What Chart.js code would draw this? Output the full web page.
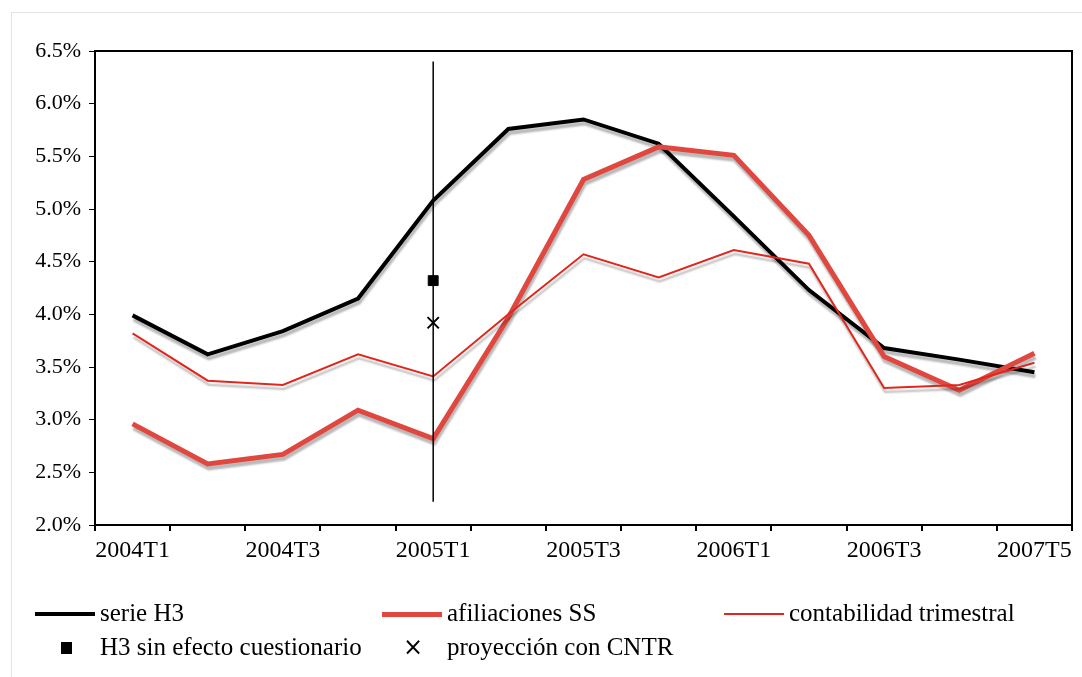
<!DOCTYPE html>
<html>
<head>
<meta charset="utf-8">
<script src="https://cdn.jsdelivr.net/npm/chart.js@4"></script>
<style>
  body { margin: 0; background: #fff; font-family: 'Liberation Serif', serif; }
  #wrap { position: relative; width: 1082px; height: 677px; overflow: hidden; }
  #frame { position: absolute; left: 11px; top: 12px; width: 1200px; height: 800px; border: 1px solid #e4e4e4; }
  #c { position: absolute; left: 0; top: 0; }
  .lg { position: absolute; font-size: 25px; color: #000; line-height: 28px; white-space: nowrap; }
  .sw { position: absolute; }
</style>
</head>
<body>
<div id="wrap">
  <div id="frame"></div>
  <canvas id="c" width="1082" height="677"></canvas>
  <div id="legend"></div>
</div>
<script>
const quarters = ['2004T1', '2004T2', '2004T3', '2004T4', '2005T1', '2005T2', '2005T3', '2005T4', '2006T1', '2006T2', '2006T3', '2006T4', '2007T5']
const serieH3 = [3.99, 3.62, 3.84, 4.15, 5.08, 5.76, 5.85, 5.62, 4.93, 4.23, 3.68, 3.57, 3.45]
const afiliaciones = [2.96, 2.58, 2.67, 3.09, 2.82, 3.97, 5.28, 5.59, 5.51, 4.75, 3.60, 3.28, 3.63]
const contabilidad = [3.82, 3.37, 3.33, 3.62, 3.41, 4.00, 4.57, 4.35, 4.61, 4.48, 3.30, 3.33, 3.54]
const sinEfecto = [null, null, null, null, 4.32, null, null, null, null, null, null, null, null]
const proyeccion = [null, null, null, null, 3.92, null, null, null, null, null, null, null, null]
// vertical marker line at 2005T1
const markerQuarter = '2005T1'
const markerRange = [2.22, 6.40]

const RED = '#e0473e'
const RED_THIN = '#e3261b'

// gray drop shadow under the series lines
const shadowPlugin = {
  id: 'shadow',
  beforeDatasetDraw (chart, args) {
    const ctx = chart.ctx
    ctx.save()
    if (args.index < 3) {
      ctx.shadowColor = 'rgba(0,0,0,0.28)'
      ctx.shadowOffsetX = 1
      ctx.shadowOffsetY = 4
      ctx.shadowBlur = 2
    }
  },
  afterDatasetDraw (chart) {
    chart.ctx.restore()
  }
}

const boxPlugin = {
  id: 'box',
  afterDatasetsDraw (chart) {
    const { ctx, chartArea, scales } = chart
    ctx.save()
    ctx.strokeStyle = '#000'
    ctx.lineWidth = 2
    ctx.beginPath()
    ctx.moveTo(chartArea.left, chartArea.top)
    ctx.lineTo(chartArea.right, chartArea.top)
    ctx.lineTo(chartArea.right, chartArea.bottom)
    ctx.stroke()
    const x = scales.x.getPixelForValue(quarters.indexOf(markerQuarter))
    ctx.lineWidth = 1.5
    ctx.beginPath()
    ctx.moveTo(x, scales.y.getPixelForValue(markerRange[1]))
    ctx.lineTo(x, scales.y.getPixelForValue(markerRange[0]))
    ctx.stroke()
    ctx.restore()
  }
}

new Chart(document.getElementById('c'), {
  type: 'line',
  data: {
    labels: quarters,
    datasets: [
      { label: 'serie H3', data: serieH3, borderColor: '#000', borderWidth: 4, pointRadius: 0, order: 3 },
      { label: 'afiliaciones SS', data: afiliaciones, borderColor: RED, borderWidth: 5, pointRadius: 0, order: 2 },
      { label: 'contabilidad trimestral', data: contabilidad, borderColor: RED_THIN, borderWidth: 2, pointRadius: 0, order: 1 },
      { label: 'H3 sin efecto cuestionario', data: sinEfecto, showLine: false, pointStyle: 'rect', pointRadius: 7, backgroundColor: '#000', borderColor: '#000', order: 0 },
      { label: 'proyección con CNTR', data: proyeccion, showLine: false, pointStyle: 'crossRot', pointRadius: 8, borderWidth: 2, borderColor: '#000', order: 0 }
    ]
  },
  options: {
    responsive: false,
    animation: false,
    layout: { padding: { left: 0, top: 51, right: 5, bottom: 112 } },
    plugins: { legend: { display: false }, tooltip: { enabled: false } },
    scales: {
      x: {
        offset: true,
        grid: { offset: true, drawOnChartArea: false, drawTicks: true, tickLength: 6, color: '#000', lineWidth: 2 },
        border: { display: true, color: '#000', width: 2 },
        ticks: {
          autoSkip: false,
          maxRotation: 0,
          color: '#000',
          padding: 5,
          font: { family: 'Liberation Serif', size: 24 },
          callback: function (v, i) { return i % 2 === 0 ? quarters[i] : '' }
        },
        afterFit: (s) => { s.height = 40 }
      },
      y: {
        min: 2.0,
        max: 6.5,
        grid: { drawOnChartArea: false, drawTicks: true, tickLength: 6, color: '#000', lineWidth: 1 },
        border: { display: true, color: '#000', width: 2 },
        ticks: {
          stepSize: 0.5,
          color: '#000',
          padding: 8,
          font: { family: 'Liberation Serif', size: 22 },
          callback: (v) => v.toFixed(1) + '%'
        },
        afterFit: (s) => { s.width = 95 }
      }
    }
  },
  plugins: [shadowPlugin, boxPlugin]
})

// legend laid out like the original (two rows, fixed columns)
const legendItems = [
  { text: 'serie H3', x: 35, y: 614, kind: 'line', color: '#000', w: 4 },
  { text: 'afiliaciones SS', x: 382, y: 614, kind: 'line', color: RED, w: 5 },
  { text: 'contabilidad trimestral', x: 724, y: 614, kind: 'line', color: RED_THIN, w: 2 },
  { text: 'H3 sin efecto cuestionario', x: 35, y: 648, kind: 'square' },
  { text: 'proyección con CNTR', x: 382, y: 648, kind: 'cross' }
]
const lg = document.getElementById('legend')
legendItems.forEach(it => {
  const sw = document.createElement('div')
  sw.className = 'sw'
  if (it.kind === 'line') {
    sw.style.cssText = `left:${it.x}px;top:${it.y - it.w / 2}px;width:60px;height:${it.w}px;background:${it.color};`
  } else if (it.kind === 'square') {
    sw.style.cssText = `left:${it.x + 26}px;top:${it.y - 6}px;width:11px;height:12px;background:#000;`
  } else {
    sw.style.cssText = `left:${it.x + 21}px;top:${it.y - 14}px;font-size:24px;line-height:26px;font-family:'DejaVu Sans';`
    sw.textContent = '×'
  }
  lg.appendChild(sw)
  const t = document.createElement('div')
  t.className = 'lg'
  t.style.left = (it.x + 65) + 'px'
  t.style.top = (it.y - 15) + 'px'
  t.textContent = it.text
  lg.appendChild(t)
})
</script>
</body>
</html>
